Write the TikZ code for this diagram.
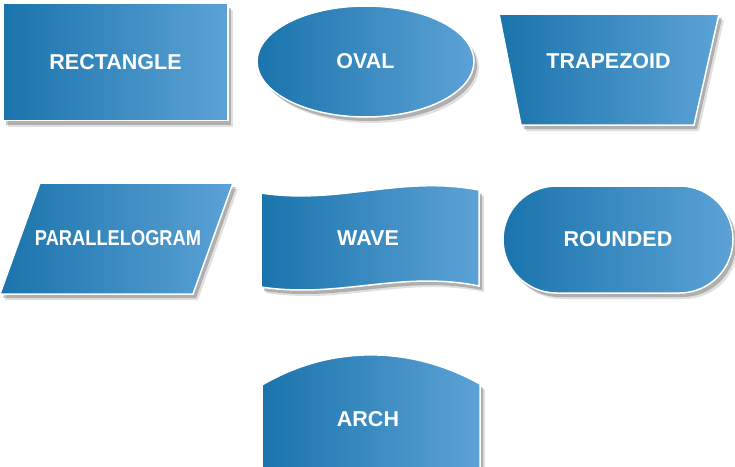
\documentclass[tikz,border=0pt]{standalone}
\usepackage{fontspec}
\setmainfont{Liberation Sans}
\usetikzlibrary{shapes,shadows,positioning}
\definecolor{shapeleft}{RGB}{26,116,172}
\definecolor{shaperight}{RGB}{92,162,214}
\tikzstyle{shapefill} = [draw=white, line width=1.5pt, left color=shapeleft, right color=shaperight,
  drop shadow={shadow xshift=5pt, shadow yshift=-6pt, opacity=0.12, fill=black},
  drop shadow={shadow xshift=3pt, shadow yshift=-4pt, opacity=0.22, fill=black}]
\tikzstyle{shapebox} = [shapefill, inner sep=0pt, text=white, font=\fontsize{21.5}{25}\selectfont\bfseries]
\tikzstyle{shapetext} = [inner sep=0pt, text=white, font=\fontsize{21.5}{25}\selectfont\bfseries]
\begin{document}
\begin{tikzpicture}[x=1pt,y=-1pt]
\useasboundingbox (0,0) rectangle (735,466);
% first row
\node (rect) [shapebox, rectangle, minimum width=225pt, minimum height=117pt] at (115.5,62) {RECTANGLE};
\node (oval) [shapebox, ellipse, minimum width=217pt, minimum height=111pt] at (365.5,61.5) {OVAL};
\path[shapefill] (499,14) -- (719,14) -- (694,125) -- (521,125) -- cycle;
\node (trap) [shapetext] at (608.5,61) {TRAPEZOID};
% second row
\path[shapefill] (40,183) -- (233,183) -- (193,294) -- (0,294) -- cycle;
\node (para) [shapetext] at (118,238) {\scalebox{0.85}[1]{PARALLELOGRAM}};
\path[shapefill] (261,193) .. controls (340,205) and (400,175) .. (479,190)
  -- (479,286) .. controls (400,270) and (340,299) .. (261,287) -- cycle;
\node (wave) [shapetext] at (368,238) {WAVE};
\node (round) [shapebox, rounded rectangle, minimum width=230pt, minimum height=107pt] at (618,239.5) {ROUNDED};
% third row
\path[shapefill] (262,475) -- (262,385) .. controls (330,345) and (410,345) .. (480,384) -- (480,475) -- cycle;
\node (arch) [shapetext] at (368,419) {ARCH};
\end{tikzpicture}
\end{document}
